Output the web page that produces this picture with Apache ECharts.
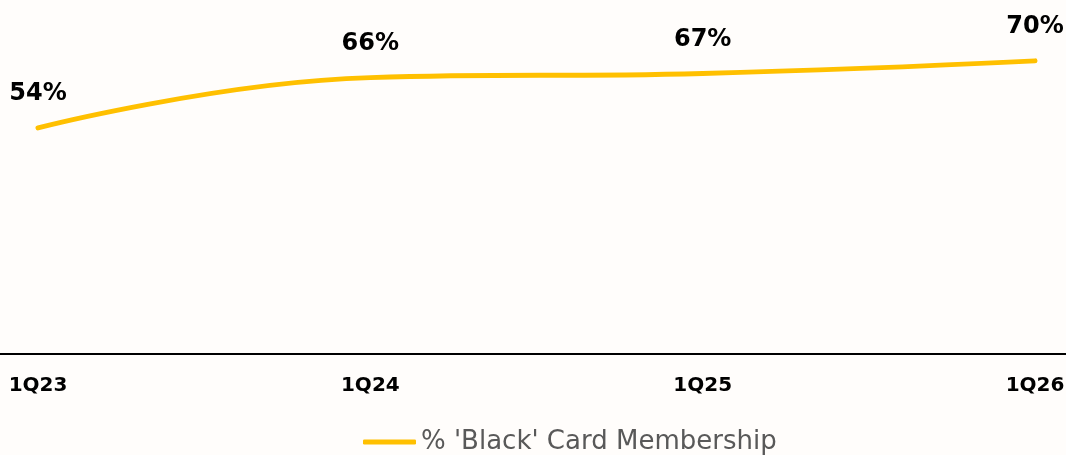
<!DOCTYPE html>
<html>
<head>
<meta charset="utf-8">
<script src="https://cdn.jsdelivr.net/npm/echarts@6/dist/echarts.min.js"></script>
<style>
  html, body { margin: 0; padding: 0; background: #fffdfb; }
  #chart { width: 1066px; height: 455px; }
</style>
</head>
<body>
<div id="chart"></div>
<script>
const quarters = ['1Q23', '1Q24', '1Q25', '1Q26'];
const blackCardShare = [54, 66, 67, 70];
const seriesName = "% 'Black' Card Membership";

const chart = echarts.init(document.getElementById('chart'));
chart.setOption({
    backgroundColor: '#fffdfb',
    textStyle: { fontFamily: 'DejaVu Sans' },
    grid: { left: 38, right: 31, top: 19, bottom: 101, containLabel: false, outerBoundsMode: 'none' },
    legend: {
        bottom: -5,
        left: 358,
        itemWidth: 53,
        itemHeight: 5,
        itemGap: 4,
        textStyle: { fontSize: 26, color: '#595959', fontFamily: 'DejaVu Sans' },
        data: [{
            name: seriesName,
            icon: 'roundRect',
            itemStyle: { color: '#ffc000', opacity: 1 }
        }]
    },
    // the reference axis rule runs across the whole width
    graphic: [{
        type: 'line',
        shape: { x1: 0, y1: 354, x2: 1066, y2: 354 },
        style: { stroke: '#000', lineWidth: 2 },
        z: 1
    }],
    xAxis: {
        type: 'category',
        boundaryGap: false,
        data: quarters,
        axisLine: { lineStyle: { color: '#000', width: 2 } },
        axisTick: { show: false },
        axisLabel: { margin: 22, fontSize: 20, fontWeight: 'bold', color: '#000', fontFamily: 'DejaVu Sans' }
    },
    yAxis: {
        type: 'value',
        min: 0,
        max: 80,
        show: false,
        splitLine: { show: false }
    },
    series: [{
        name: seriesName,
        type: 'line',
        data: blackCardShare,
        smooth: 0.45,
        showSymbol: true,
        symbol: 'circle',
        symbolSize: 2,
        lineStyle: { color: '#ffc000', width: 5, cap: 'round' },
        itemStyle: { color: 'rgba(255,192,0,0)', borderWidth: 0 },
        label: {
            show: true,
            position: 'top',
            distance: 21,
            formatter: p => p.value + '%',
            fontSize: 24,
            fontWeight: 'bold',
            color: '#000',
            opacity: 1,
            fontFamily: 'DejaVu Sans'
        },
        labelLayout: { hideOverlap: false }
    }]
});
</script>
</body>
</html>
